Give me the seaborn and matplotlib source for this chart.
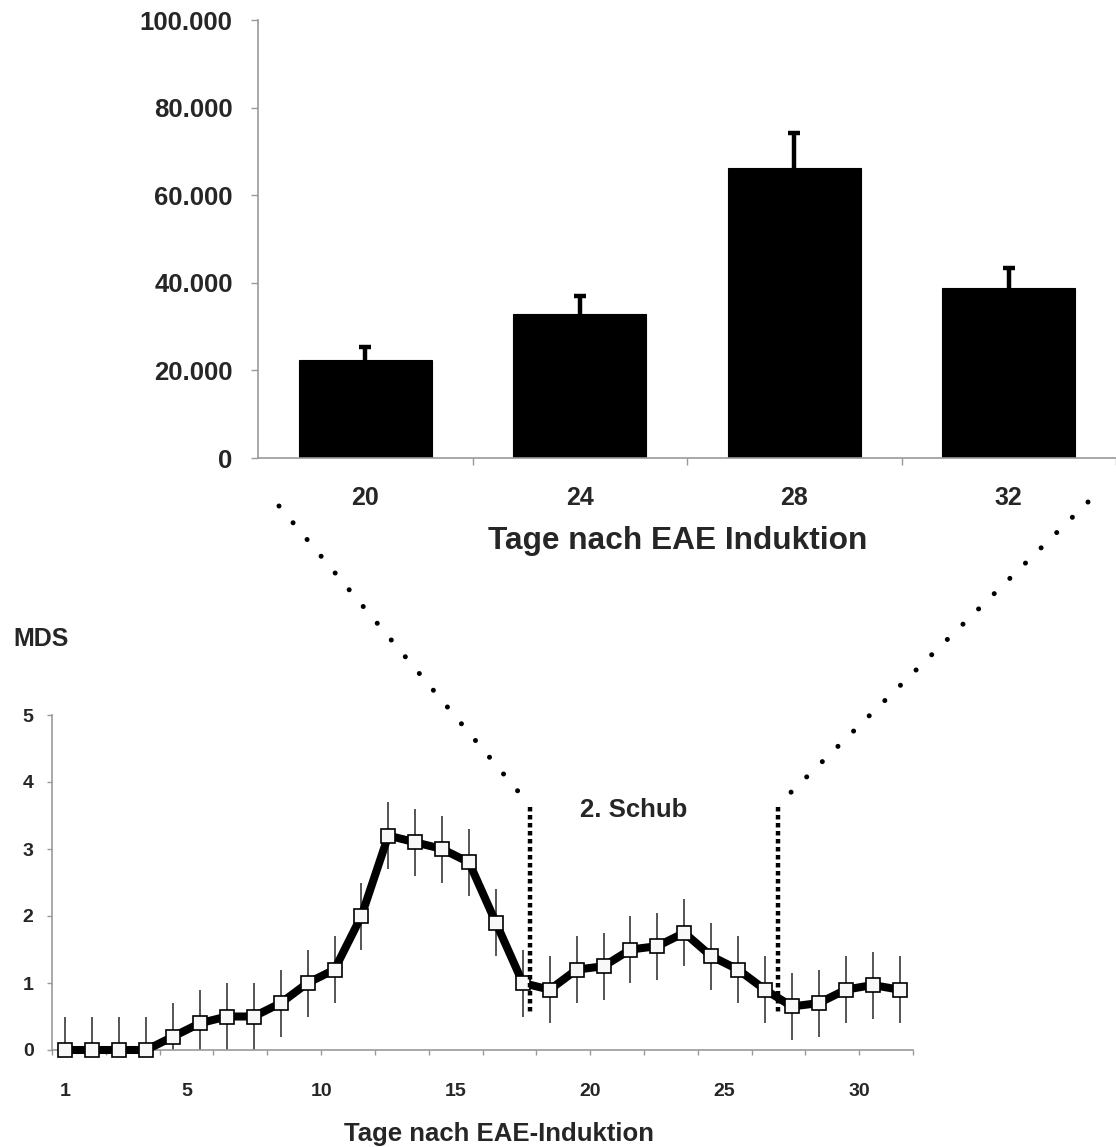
import numpy as np
import seaborn as sns
import matplotlib.pyplot as plt
from matplotlib.lines import Line2D

# oberes Diagramm: Balken
tage_bar = ["20", "24", "28", "32"]
werte_bar = [22300, 32900, 66300, 38700]
fehler_bar = [3100, 4100, 8000, 4750]
ytick_werte = [0, 20000, 40000, 60000, 80000, 100000]
ytick_text = ["0", "20.000", "40.000", "60.000", "80.000", "100.000"]

# unteres Diagramm: MDS-Verlauf
tage = list(range(1, 33))
mds = [0, 0, 0, 0, 0.2, 0.4, 0.5, 0.5, 0.7, 1.0, 1.2, 2.0, 3.2, 3.1, 3.0, 2.8,
       1.9, 1.0, 0.9, 1.2, 1.25, 1.5, 1.55, 1.75, 1.4, 1.2, 0.9, 0.65, 0.7, 0.9, 0.97, 0.9]
sem = [0.5, 0.5, 0.5, 0.5, 0.5, 0.5, 0.5, 0.5, 0.5, 0.5, 0.5, 0.5, 0.5, 0.5, 0.5, 0.5,
       0.5, 0.5, 0.5, 0.5, 0.5, 0.5, 0.5, 0.5, 0.5, 0.5, 0.5, 0.5, 0.5, 0.5, 0.5, 0.5]
xtick_tage = [1, 5, 10, 15, 20, 25, 30]
mds_ticks = [0, 1, 2, 3, 4, 5]

W, H = 1116, 1147
GRAU = '#999999'

sns.set_style('white')
plt.rcParams['font.family'] = ['Liberation Sans', 'DejaVu Sans']
plt.rcParams['font.weight'] = 'bold'


def fx(x, y):
    return x / W, 1 - y / H


fig = plt.figure(figsize=(W / 100, H / 100), dpi=100)

# ---------- oben ----------
ax1 = fig.add_axes([258 / W, 1 - 458 / H, (W - 258) / W, 438 / H])
sns.barplot(x=tage_bar, y=werte_bar, color='black', width=0.62, errorbar=None,
            edgecolor='black', linewidth=0.8, saturation=1, ax=ax1)
ax1.errorbar(range(len(werte_bar)), werte_bar, yerr=fehler_bar, fmt='none',
             ecolor='black', elinewidth=3.2, capsize=4.5, capthick=3.2, zorder=1)
ax1.set_xlim(-0.5, 3.5)
ax1.set_ylim(0, 100000)
for s in ['top', 'right']:
    ax1.spines[s].set_visible(False)
for s in ['left', 'bottom']:
    ax1.spines[s].set_color(GRAU)
    ax1.spines[s].set_linewidth(1.2)
ax1.set_yticks(ytick_werte)
ax1.set_yticklabels(ytick_text, fontsize=18.5, fontweight='bold')
ax1.tick_params(axis='y', direction='out', length=4.8, width=1, color=GRAU, pad=13.4, left=True)
ax1.set_xticks([0.5, 1.5, 2.5, 3.5])
ax1.set_xticklabels([])
ax1.set_xticks(range(len(tage_bar)), minor=True)
ax1.set_xticklabels(tage_bar, minor=True, fontsize=18, fontweight='bold')
ax1.tick_params(axis='x', which='major', direction='out', length=4.8, width=1, color=GRAU, bottom=True)
ax1.tick_params(axis='x', which='minor', length=0, pad=20.5)
ax1.set_xlabel('Tage nach EAE Induktion', fontsize=22.8, fontweight='bold')
ax1.xaxis.set_label_coords(0.4895, -0.1895)
ax1.xaxis.label.set_verticalalignment('center')
ax1.set_ylabel('')

# ---------- unten ----------
ax2 = fig.add_axes([52 / W, 1 - 1050 / H, 861 / W, 335 / H])
ax2.errorbar(tage, mds, yerr=sem, fmt='none', ecolor='#555555', elinewidth=1.4, zorder=1)
sns.lineplot(x=tage, y=mds, color='black', linewidth=5.8, marker='s', markersize=9.4,
             markerfacecolor='#f8f8f8', markeredgecolor='black', markeredgewidth=1.2,
             clip_on=False, zorder=3, ax=ax2)
ax2.set_xlim(0.5, 32.5)
ax2.set_ylim(0, 5)
for s in ['top', 'right']:
    ax2.spines[s].set_visible(False)
for s in ['left', 'bottom']:
    ax2.spines[s].set_color(GRAU)
    ax2.spines[s].set_linewidth(1.2)
ax2.set_yticks(mds_ticks)
ax2.set_yticklabels([str(v) for v in mds_ticks], fontsize=14, fontweight='bold')
ax2.tick_params(axis='y', direction='out', length=3.6, width=1, color=GRAU, pad=9.7, left=True)
ax2.xaxis.remove_overlapping_locs = False
ax2.set_xticks(np.arange(0.5, 33, 2))
ax2.set_xticklabels([])
lage = [t if t == 1 else t + 0.5 for t in xtick_tage]
ax2.set_xticks(lage, minor=True)
ax2.set_xticklabels([str(t) for t in xtick_tage], minor=True, fontsize=14, fontweight='bold')
ax2.tick_params(axis='x', which='major', direction='out', length=3.6, width=1, color=GRAU, bottom=True)
ax2.tick_params(axis='x', which='minor', length=0, pad=24)
ax2.set_xlabel('Tage nach EAE-Induktion', fontsize=18.5, fontweight='bold')
ax2.xaxis.set_label_coords(0.519, -0.251)
ax2.xaxis.label.set_verticalalignment('center')
ax2.set_ylabel('')

fig.text(*fx(13, 639), 'MDS', fontsize=18, fontweight='bold', ha='left', va='center')
ax2.text(20.12, 3.58, '2. Schub', fontsize=18.5, fontweight='bold', ha='left', va='center')

# gestrichelte Markierung des 2. Schubs
for xv in [18.27, 27.47]:
    ax2.plot([xv, xv], [3.63, 0.57], color='black', linewidth=3.2,
             dashes=(1, 0.8), clip_on=False, zorder=4)

# Verbindungslinien zwischen den Diagrammen
for p0, p1 in [((279, 506), (527, 802)), ((1088, 502), (781, 802))]:
    (x0, y0), (x1, y1) = fx(*p0), fx(*p1)
    fig.add_artist(Line2D([x0, x1], [y0, y1], transform=fig.transFigure,
                          color='black', linewidth=3.6, dashes=(0.01, 4.36),
                          dash_capstyle='round'))

fig.savefig('out.png', dpi=100)
